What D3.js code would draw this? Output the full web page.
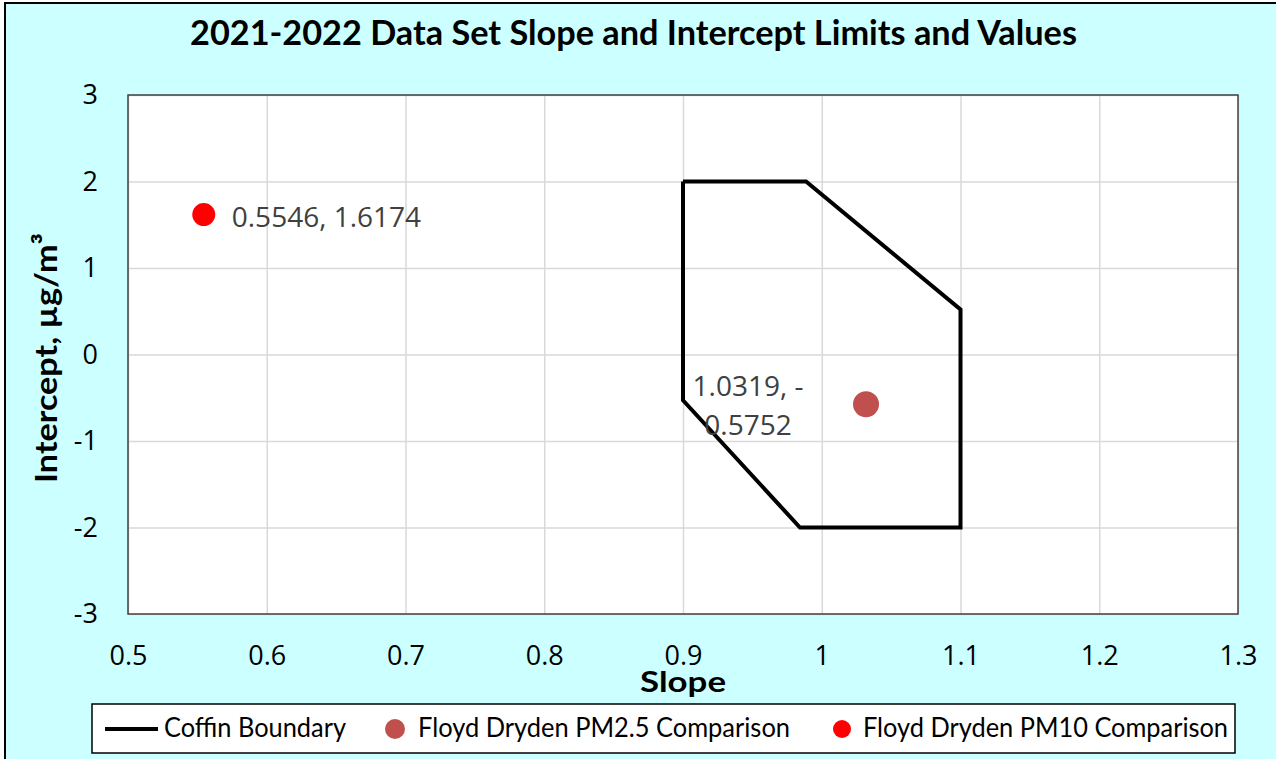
<!DOCTYPE html>
<html>
<head>
<meta charset="utf-8">
<script src="https://cdn.jsdelivr.net/npm/d3@7"></script>
<style>
  html, body { margin: 0; padding: 0; background: #ffffff; }
  svg { display: block; }
</style>
</head>
<body>
<svg id="chart" width="1276" height="759"></svg>
<script>
// ---------- data ----------
const chartTitle = "2021-2022 Data Set Slope and Intercept Limits and Values";
const xTitle = "Slope";
const yTitle = "Intercept, µg/m³";
const xTicks = [0.5, 0.6, 0.7, 0.8, 0.9, 1.0, 1.1, 1.2, 1.3];
const xTickLabels = ["0.5", "0.6", "0.7", "0.8", "0.9", "1", "1.1", "1.2", "1.3"];
const yTicks = [-3, -2, -1, 0, 1, 2, 3];
const yTickLabels = ["-3", "-2", "-1", "0", "1", "2", "3"];
// coffin boundary polygon (slope, intercept)
const coffinSlope     = [0.9, 0.9887, 1.1,  1.1, 0.9843, 0.9,   0.9];
const coffinIntercept = [2.0, 2.0,    0.52, -2.0, -2.0,  -0.53, 2.0];
const pm25Slope = [1.0319];
const pm25Intercept = [-0.5752];
const pm10Slope = [0.5546];
const pm10Intercept = [1.6174];
const legendNames = ["Coffin Boundary", "Floyd Dryden PM2.5 Comparison", "Floyd Dryden PM10 Comparison"];

// ---------- layout ----------
const svg = d3.select("#chart");
const W = 1276, H = 759;
const plot = { left: 128, right: 1238, top: 95, bottom: 614 };
const x = d3.scaleLinear().domain([0.5, 1.3]).range([plot.left, plot.right]);
const y = d3.scaleLinear().domain([-3, 3]).range([plot.bottom, plot.top]);

const fontLabel = "'Open Sans', 'DejaVu Sans', sans-serif";
const fontTitle = "Lato, 'Open Sans', sans-serif";

// background frame
svg.append("rect").attr("x", 0).attr("y", 0).attr("width", W).attr("height", H).attr("fill", "#ffffff");
svg.append("rect").attr("x", 5).attr("y", 3).attr("width", W + 20).attr("height", H + 20)
  .attr("fill", "#CCFFFF").attr("stroke", "#000").attr("stroke-width", 2);

// plot area
svg.append("rect").attr("x", plot.left).attr("y", plot.top)
  .attr("width", plot.right - plot.left).attr("height", plot.bottom - plot.top)
  .attr("fill", "#ffffff");

// gridlines
const gx = svg.append("g").attr("transform", `translate(0,${plot.bottom})`)
  .call(d3.axisBottom(x).tickValues(xTicks).tickSize(-(plot.bottom - plot.top)).tickFormat(""));
gx.select(".domain").remove();
gx.selectAll("line").attr("stroke", "#D9D9D9").attr("stroke-width", 1.5);
const gy = svg.append("g").attr("transform", `translate(${plot.left},0)`)
  .call(d3.axisLeft(y).tickValues(yTicks).tickSize(-(plot.right - plot.left)).tickFormat(""));
gy.select(".domain").remove();
gy.selectAll("line").attr("stroke", "#D9D9D9").attr("stroke-width", 1.5);

// plot border
svg.append("rect").attr("x", plot.left).attr("y", plot.top)
  .attr("width", plot.right - plot.left).attr("height", plot.bottom - plot.top)
  .attr("fill", "none").attr("stroke", "#404040").attr("stroke-width", 1.5);

// tick labels via axes
const ax = svg.append("g").attr("transform", `translate(0,${plot.bottom})`)
  .call(d3.axisBottom(x).tickValues(xTicks).tickSize(0).tickPadding(32)
    .tickFormat((d, i) => xTickLabels[i]));
ax.select(".domain").remove();
ax.selectAll("text").attr("font-family", fontLabel).attr("font-size", 27).attr("fill", "#000");

const ay = svg.append("g").attr("transform", `translate(${plot.left},0)`)
  .call(d3.axisLeft(y).tickValues(yTicks).tickSize(0).tickPadding(30)
    .tickFormat((d, i) => yTickLabels[i]));
ay.select(".domain").remove();
ay.selectAll("text").attr("font-family", fontLabel).attr("font-size", 27).attr("fill", "#000");

// coffin boundary
const coffin = coffinSlope.map((s, i) => [s, coffinIntercept[i]]);
svg.append("path").datum(coffin)
  .attr("d", d3.line().x(d => x(d[0])).y(d => y(d[1])))
  .attr("fill", "none").attr("stroke", "#000").attr("stroke-width", 4)
  .attr("stroke-linejoin", "miter");

// points
const pm25 = pm25Slope.map((s, i) => ({ x: s, y: pm25Intercept[i] }));
const pm10 = pm10Slope.map((s, i) => ({ x: s, y: pm10Intercept[i] }));
svg.selectAll(".p25").data(pm25).enter().append("circle")
  .attr("cx", d => x(d.x)).attr("cy", d => y(d.y)).attr("r", 13).attr("fill", "#C0504D");
svg.selectAll(".p10").data(pm10).enter().append("circle")
  .attr("cx", d => x(d.x)).attr("cy", d => y(d.y)).attr("r", 11.5).attr("fill", "#FF0000");

// data labels
pm10.forEach(d => {
  svg.append("text").attr("x", x(d.x) + 28).attr("y", y(d.y) + 12)
    .attr("font-family", fontLabel).attr("font-size", 28).attr("fill", "#404040")
    .text(`${d.x}, ${d.y}`);
});
pm25.forEach(d => {
  const full = `${d.x}, ${d.y}`;
  const cut = full.indexOf("-") + 1;
  const lines = [full.slice(0, cut), full.slice(cut)];
  const t = svg.append("text").attr("text-anchor", "middle")
    .attr("font-family", fontLabel).attr("font-size", 28).attr("fill", "#404040");
  lines.forEach((ln, i) => {
    t.append("tspan").attr("x", x(d.x) - 118).attr("y", y(d.y) - 8 + i * 39).text(ln);
  });
});

// helper: squeeze text to exact width
function fit(sel, w) {
  sel.attr("textLength", w).attr("lengthAdjust", "spacingAndGlyphs");
  return sel;
}

// title
fit(svg.append("text").attr("x", 633.5).attr("y", 45).attr("text-anchor", "middle")
  .attr("font-family", fontTitle).attr("font-weight", "bold").attr("font-size", 35)
  .attr("fill", "#000").text(chartTitle), 887);

// axis titles
fit(svg.append("text").attr("x", 683).attr("y", 692).attr("text-anchor", "middle")
  .attr("font-family", fontTitle).attr("font-weight", "bold").attr("font-size", 29)
  .attr("fill", "#000").text(xTitle), 86);

fit(svg.append("text").attr("transform", "translate(57,358) rotate(-90)").attr("text-anchor", "middle")
  .attr("font-family", fontTitle).attr("font-weight", "bold").attr("font-size", 31)
  .attr("fill", "#000").text(yTitle), 250);

// legend
svg.append("rect").attr("x", 92).attr("y", 704).attr("width", 1143).attr("height", 49)
  .attr("fill", "#ffffff").attr("stroke", "#000").attr("stroke-width", 1.5);
const legY = 729;
svg.append("line").attr("x1", 105).attr("x2", 158).attr("y1", legY).attr("y2", legY)
  .attr("stroke", "#000").attr("stroke-width", 4);
svg.append("circle").attr("cx", 395).attr("cy", legY).attr("r", 10).attr("fill", "#C0504D");
svg.append("circle").attr("cx", 842).attr("cy", legY).attr("r", 9).attr("fill", "#FF0000");
const legX = [164, 418, 863];
const legWidths = [182, 372, 365];
legendNames.forEach((n, i) => {
  fit(svg.append("text").attr("x", legX[i]).attr("y", 737)
    .attr("font-family", fontTitle).attr("font-size", 26).attr("fill", "#000").text(n), legWidths[i]);
});
</script>
</body>
</html>
